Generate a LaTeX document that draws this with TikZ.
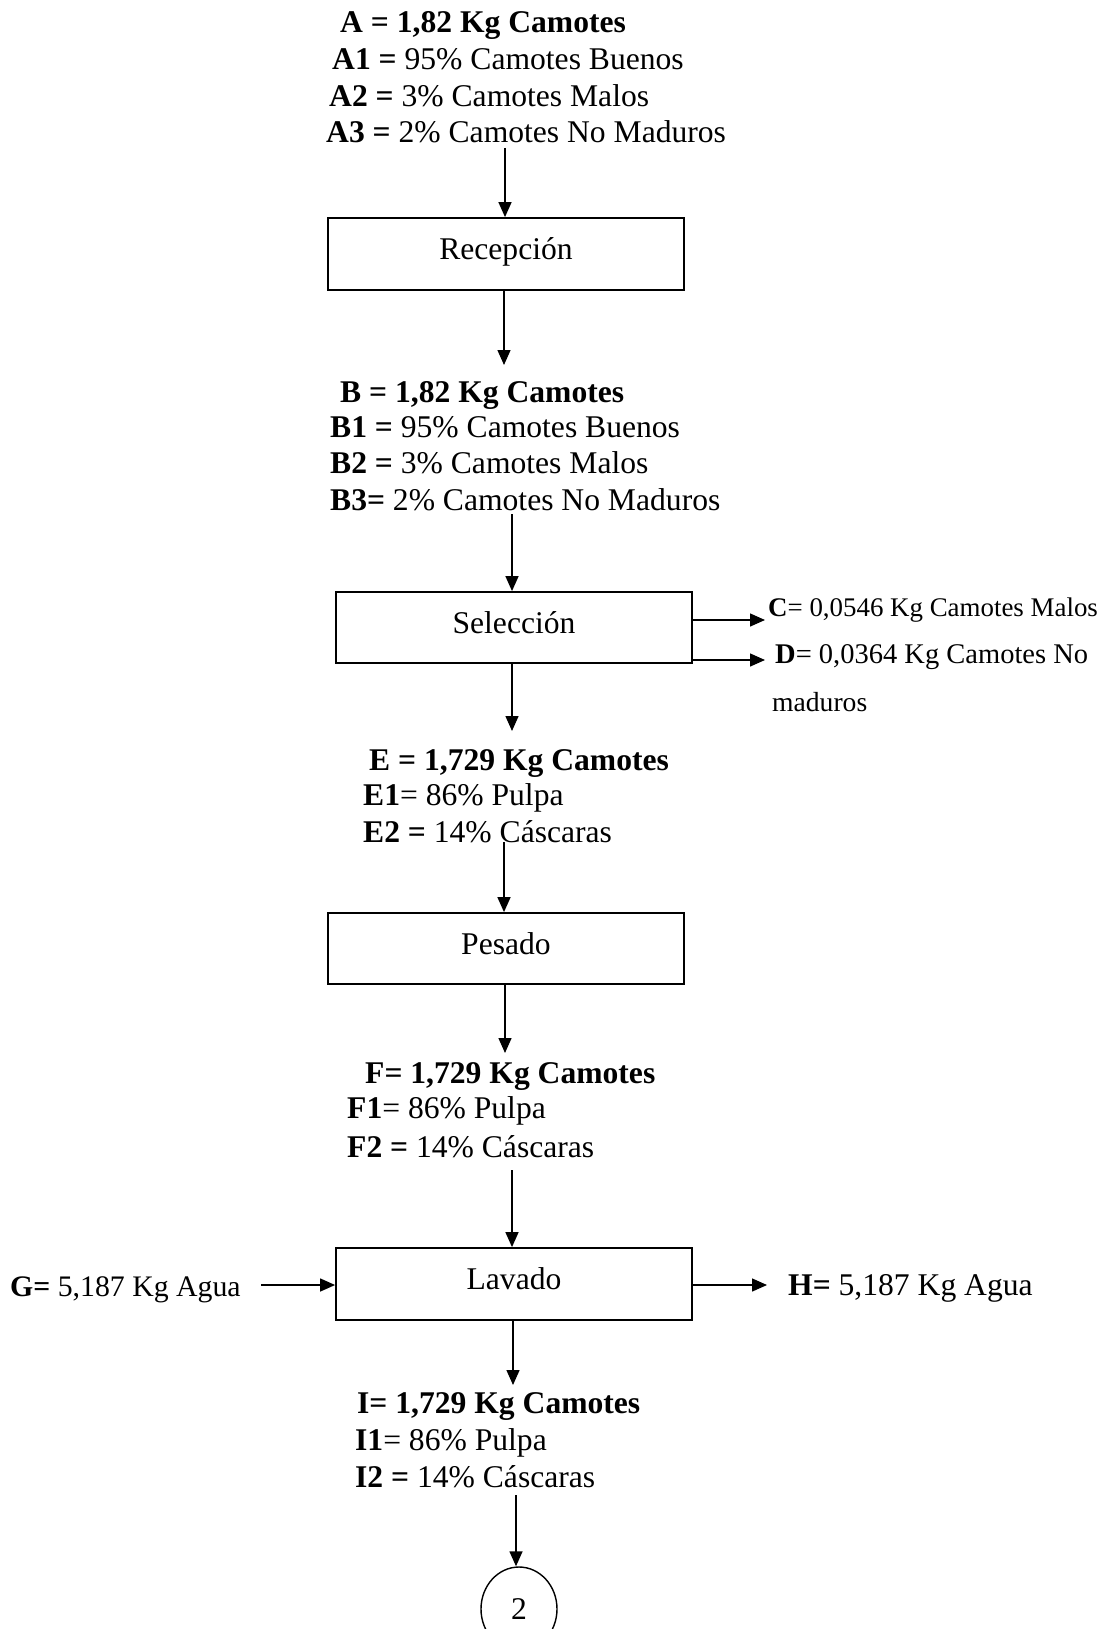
\documentclass[tikz,border=0pt]{standalone}
\usepackage{fontspec}
\setmainfont{Liberation Serif}
\usetikzlibrary{arrows.meta,shapes.geometric}

\tikzset{
  txt/.style={anchor=base west, inner sep=0pt, font=\fontsize{31.6}{37}\selectfont},
  txtsmall/.style={anchor=base west, inner sep=0pt, font=\fontsize{26.9}{31}\selectfont},
  stagebox/.style={draw, line width=1.8pt, minimum width=356pt, inner sep=0pt,
    text height=20pt, text depth=9pt, font=\fontsize{31.6}{37}\selectfont},
  flow/.style={line width=1.4pt, -{Triangle[length=15pt,width=13pt]}}
}

\begin{document}
\begin{tikzpicture}[x=1pt,y=-1pt]
\useasboundingbox (0,0) rectangle (1101,1629);

% Entrada
\node[txt] (a0) at (340,33)  {\textbf{A = 1,82 Kg Camotes}};
\node[txt] (a1) at (332,70)  {\textbf{A1 =} 95\% Camotes Buenos};
\node[txt] (a2) at (329,107) {\textbf{A2 =} 3\% Camotes Malos};
\node[txt] (a3) at (326,143) {\textbf{A3 =} 2\% Camotes No Maduros};

% Etapas del proceso
\node[stagebox, minimum height=72pt] (recep) at (506,254)   {Recepción};
\node[stagebox, minimum height=71pt] (sel)   at (514,627.5) {Selección};
\node[stagebox, minimum height=71pt] (pes)   at (506,948.5) {Pesado};
\node[stagebox, minimum height=72pt] (lav)   at (514,1284)  {Lavado};

% Corriente B
\node[txt] (b0) at (340,402) {\textbf{B = 1,82 Kg Camotes}};
\node[txt] (b1) at (330,437) {\textbf{B1 =} 95\% Camotes Buenos};
\node[txt] (b2) at (330,473) {\textbf{B2 =} 3\% Camotes Malos};
\node[txt] (b3) at (330,510) {\textbf{B3=} 2\% Camotes No Maduros};

% Salidas de la selección
\node[txtsmall] (c0) at (768,616) {\textbf{C}= 0,0546 Kg Camotes Malos};
\node[txtsmall, font=\fontsize{28.5}{33}\selectfont] (d0) at (775,663) {\textbf{D}= 0,0364 Kg Camotes No};
\node[txtsmall, font=\fontsize{27.6}{32}\selectfont] (d1) at (772,711) {maduros};

% Corriente E
\node[txt] (e0) at (369,770) {\textbf{E = 1,729 Kg Camotes}};
\node[txt] (e1) at (363,805) {\textbf{E1}= 86\% Pulpa};
\node[txt] (e2) at (363,842) {\textbf{E2 =} 14\% Cáscaras};

% Corriente F
\node[txt] (f0) at (365,1083) {\textbf{F= 1,729 Kg Camotes}};
\node[txt] (f1) at (347,1118) {\textbf{F1}= 86\% Pulpa};
\node[txt] (f2) at (347,1157) {\textbf{F2 =} 14\% Cáscaras};

% Agua de lavado
\node[txt, font=\fontsize{29.8}{35}\selectfont] (g0) at (10,1296) {\textbf{G=} 5,187 Kg Agua};
\node[txt] (h0) at (788,1295) {\textbf{H=} 5,187 Kg Agua};

% Corriente I
\node[txt] (i0) at (357,1413) {\textbf{I= 1,729 Kg Camotes}};
\node[txt] (i1) at (355,1450) {\textbf{I1}= 86\% Pulpa};
\node[txt] (i2) at (355,1487) {\textbf{I2 =} 14\% Cáscaras};

% Conector a la siguiente hoja
\node[draw, ellipse, line width=1.4pt, minimum width=76pt, minimum height=84pt,
      inner sep=0pt, font=\fontsize{31.6}{37}\selectfont] (conn) at (519,1609) {2};

% Puntos de inicio y llegada de las flechas
\coordinate (aout) at (505,148);
\coordinate (bin)  at (504,365);
\coordinate (bout) at (512,514);
\coordinate (ctip) at (765,620);
\coordinate (dtip) at (765,660);
\coordinate (ein)  at (512,731);
\coordinate (eout) at (504,842);
\coordinate (fin)  at (505,1053);
\coordinate (fout) at (512,1170);
\coordinate (gout) at (261,1285);
\coordinate (htip) at (767,1285);
\coordinate (iin)  at (513,1385);
\coordinate (iout) at (516,1495);

% Flechas
\draw[flow] (aout) -- (aout |- recep.north);
\draw[flow] (recep.south -| bin) -- (bin);
\draw[flow] (bout) -- (bout |- sel.north);
\draw[flow] (sel.east |- ctip) -- (ctip);
\draw[flow] (sel.east |- dtip) -- (dtip);
\draw[flow] (sel.south -| ein) -- (ein);
\draw[flow] (eout) -- (eout |- pes.north);
\draw[flow] (pes.south -| fin) -- (fin);
\draw[flow] (fout) -- (fout |- lav.north);
\draw[flow] (gout) -- (gout -| lav.west);
\draw[flow] (lav.east |- htip) -- (htip);
\draw[flow] (lav.south -| iin) -- (iin);
\draw[flow] (iout) -- (iout |- conn.north);
\end{tikzpicture}
\end{document}
